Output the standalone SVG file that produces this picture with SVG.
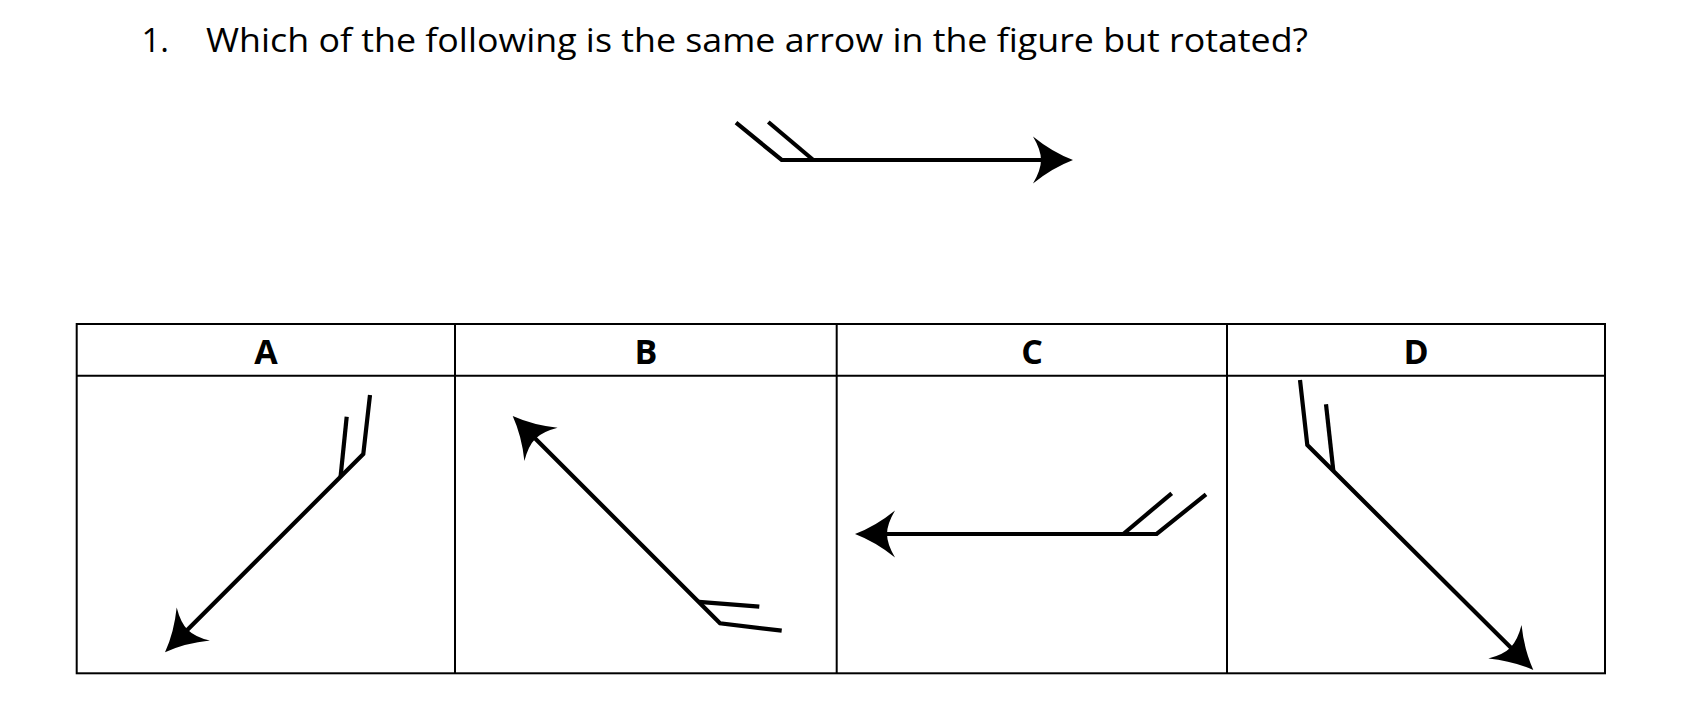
<svg xmlns="http://www.w3.org/2000/svg" width="1684" height="724" viewBox="0 0 1684 724">
  <style>
    .title { font-family: "Open Sans", "Noto Sans", "Liberation Sans", sans-serif; font-size: 33px; fill: #000; }
    .hdr { font-family: "Open Sans", "Liberation Sans", sans-serif; font-size: 34px; font-weight: bold; fill: #000; text-anchor: middle; }
    .grid { fill: none; stroke: #000; stroke-width: 2; }
    .arr { fill: none; stroke: #000; stroke-width: 4.2; stroke-linejoin: miter; stroke-linecap: butt; }
    .head { fill: #000; stroke: none; }
  </style>
  <defs>
    <marker id="head" markerUnits="userSpaceOnUse" markerWidth="60" markerHeight="60" viewBox="-30 -30 60 60" refX="0" refY="0" orient="auto" overflow="visible">
      <path class="head" d="M12,0 Q-9,-8 -28,-23.5 Q-20,-10 -20,0 Q-20,10 -28,23.5 Q-9,8 12,0 Z"/>
    </marker>
  </defs>
  <rect width="1684" height="724" fill="#fff"/>

  <g id="question">
    <text class="title" x="141.5" y="51.5">1.</text>
    <text class="title" x="206" y="51.5" textLength="1102" lengthAdjust="spacingAndGlyphs">Which of the following is the same arrow in the figure but rotated?</text>
  </g>

  <g id="figure-arrow">
    <path class="arr" d="M736,122.7 L781.7,160 L1061,160" marker-end="url(#head)"/>
    <line class="arr" x1="768.3" y1="122" x2="813.3" y2="160"/>
  </g>

  <g id="table">
    <rect class="grid" x="76.7" y="324" width="1528.3" height="349.3"/>
    <line class="grid" x1="76.7" y1="375.7" x2="1605" y2="375.7"/>
    <line class="grid" x1="455" y1="324" x2="455" y2="673.3"/>
    <line class="grid" x1="836.7" y1="324" x2="836.7" y2="673.3"/>
    <line class="grid" x1="1227" y1="324" x2="1227" y2="673.3"/>
  </g>

  <g id="option-A">
    <text class="hdr" x="266" y="363.5">A</text>
    <path class="arr" d="M370,395 L363.3,454 L173.5,643.8" marker-end="url(#head)"/>
    <line class="arr" x1="346.7" y1="416.7" x2="340.6" y2="476.5"/>
  </g>

  <g id="option-B">
    <text class="hdr" x="646" y="363.5">B</text>
    <path class="arr" d="M781.7,630.7 L720,623.3 L521.2,424.5" marker-end="url(#head)"/>
    <line class="arr" x1="759.3" y1="606.7" x2="698.8" y2="601.8"/>
  </g>

  <g id="option-C">
    <text class="hdr" x="1032" y="363.5">C</text>
    <path class="arr" d="M1206,494.3 L1156.7,534 L867,534" marker-end="url(#head)"/>
    <line class="arr" x1="1171.7" y1="493.3" x2="1123.3" y2="534"/>
  </g>

  <g id="option-D">
    <text class="hdr" x="1416" y="363.5">D</text>
    <path class="arr" d="M1300,380 L1307.3,445 L1524.8,661.5" marker-end="url(#head)"/>
    <line class="arr" x1="1326" y1="404.3" x2="1333.3" y2="470.5"/>
  </g>
</svg>
